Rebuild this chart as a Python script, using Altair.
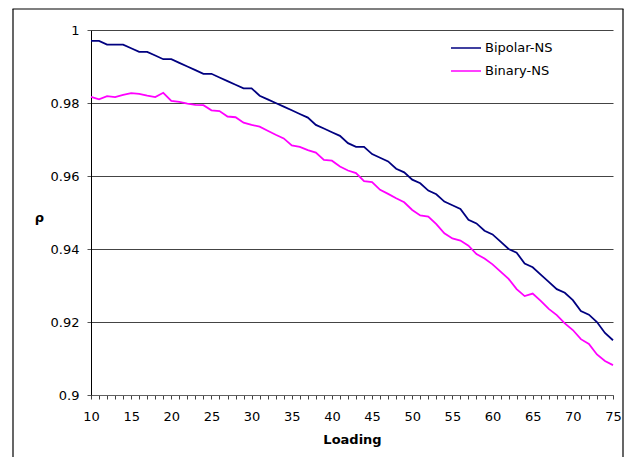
import altair as alt
import pandas as pd

loading = list(range(10, 76))

bipolar_ns = [0.997, 0.997, 0.996, 0.996, 0.996, 0.995, 0.994, 0.994, 0.993, 0.992,
              0.992, 0.991, 0.990, 0.989, 0.988, 0.988, 0.987, 0.986, 0.985, 0.984,
              0.984, 0.982, 0.981, 0.980, 0.979, 0.978, 0.977, 0.976, 0.974, 0.973,
              0.972, 0.971, 0.969, 0.968, 0.968, 0.966, 0.965, 0.964, 0.962, 0.961,
              0.959, 0.958, 0.956, 0.955, 0.953, 0.952, 0.951, 0.948, 0.947, 0.945,
              0.944, 0.942, 0.940, 0.939, 0.936, 0.935, 0.933, 0.931, 0.929, 0.928,
              0.926, 0.923, 0.922, 0.920, 0.917, 0.915]

binary_ns = [0.9817, 0.9810, 0.9819, 0.9816, 0.9822, 0.9827, 0.9825, 0.9820, 0.9816, 0.9828,
             0.9806, 0.9803, 0.9798, 0.9795, 0.9794, 0.9780, 0.9778, 0.9763, 0.9761, 0.9746,
             0.9740, 0.9735, 0.9724, 0.9713, 0.9703, 0.9684, 0.9680, 0.9671, 0.9664, 0.9644,
             0.9642, 0.9626, 0.9615, 0.9608, 0.9586, 0.9583, 0.9562, 0.9551, 0.9539, 0.9528,
             0.9507, 0.9492, 0.9489, 0.9468, 0.9443, 0.9429, 0.9423, 0.9409, 0.9386, 0.9374,
             0.9358, 0.9338, 0.9318, 0.9290, 0.9271, 0.9278, 0.9258, 0.9236, 0.9219, 0.9196,
             0.9178, 0.9153, 0.9140, 0.9111, 0.9093, 0.9082]

series_names = ["Bipolar-NS", "Binary-NS"]
series_colors = ["#000080", "#FF00FF"]
y_ticks = [0.9, 0.92, 0.94, 0.96, 0.98, 1.0]

df = pd.concat([
    pd.DataFrame({"Loading": loading, "rho": bipolar_ns, "series": series_names[0]}),
    pd.DataFrame({"Loading": loading, "rho": binary_ns, "series": series_names[1]}),
])

FONT = "DejaVu Sans"

lines = alt.Chart(df).mark_line(strokeWidth=1.8, clip=False).encode(
    x=alt.X("Loading:Q",
            scale=alt.Scale(domain=[10, 75], nice=False, zero=False),
            axis=alt.Axis(values=loading, labelExpr="datum.value % 5 == 0 ? datum.label : ''",
                          grid=False, tickSize=4, tickColor="#404040", domainColor="#606060",
                          labelFont=FONT, labelFontSize=13, labelColor="#000",
                          labelPadding=11, labelFlush=False, labelOverlap=False,
                          title="Loading", titleFont=FONT, titleFontSize=13,
                          titleFontWeight="bold", titleColor="#000", titlePadding=10)),
    y=alt.Y("rho:Q",
            scale=alt.Scale(domain=[0.9, 1.0], nice=False, zero=False),
            axis=alt.Axis(values=y_ticks, format=".2~f", grid=True, gridColor="#444444",
                          gridWidth=1.2, tickSize=4, tickColor="#555555", domainColor="#000",
                          labelFont=FONT, labelFontSize=13, labelColor="#000", labelPadding=8,
                          title="ρ", titleAngle=0, titleFont=FONT, titleFontSize=13,
                          titleFontWeight="bold", titleColor="#000", titleX=-52, titleY=187,
                          titleAlign="center", titleBaseline="middle")),
    color=alt.Color("series:N", sort=series_names,
                    scale=alt.Scale(domain=series_names, range=series_colors),
                    legend=alt.Legend(title=None, orient="none", legendX=359, legendY=2,
                                      symbolType="stroke", symbolSize=900, symbolStrokeWidth=1.5,
                                      labelFont=FONT, labelFontSize=13, labelColor="#000",
                                      labelOffset=3, rowPadding=0)),
)

# outer frame around the whole figure (pixel space)
frame_left = alt.Chart(pd.DataFrame({"a": [1]})).mark_rule(
    color="#000", strokeWidth=1.2).encode(
    x=alt.value(-78), y=alt.value(-21), y2=alt.value(440))
frame_right = alt.Chart(pd.DataFrame({"b": [1]})).mark_rule(
    color="#000", strokeWidth=1.2).encode(
    x=alt.value(532), y=alt.value(-21), y2=alt.value(440))
frame_top = alt.Chart(pd.DataFrame({"c": [1]})).mark_rect(
    color="#000", width=611, height=1.2).encode(
    x=alt.value(227), y=alt.value(-21))

chart = alt.layer(lines, frame_left, frame_right, frame_top).properties(
    width=522, height=365,
    autosize=alt.AutoSizeParams(type="none"),
    padding={"left": 91, "top": 30, "right": 13, "bottom": 62},
    background="white",
).configure_view(stroke=None)

chart.save("out.html", embed_options={"renderer": "svg", "actions": False})
